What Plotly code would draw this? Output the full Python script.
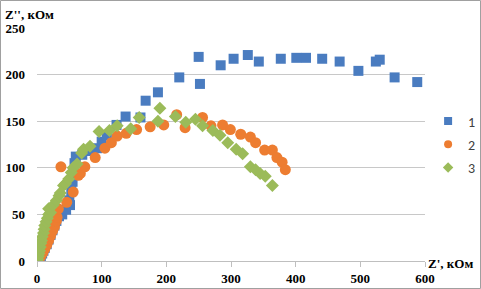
import plotly.graph_objects as go

# Series 1 (blue squares)
x1 = [0, 2, 4, 6, 8, 10, 12, 15, 18, 21, 24, 27, 30, 34, 39, 45, 51, 50, 53, 55, 56, 58, 60, 70, 80, 93,
      100, 108, 123, 137, 160, 168, 187, 220, 252, 250, 284, 304, 326, 343, 377, 401, 416, 441, 468, 497,
      524, 530, 553, 588]
y1 = [0, 1, 3, 5, 8, 11, 14, 18, 23, 28, 33, 38, 43, 48, 50, 55, 60, 65, 75, 85, 95, 105, 112, 114, 118, 121,
      128, 135, 146, 155, 154, 172, 181, 197, 190, 219, 210, 217, 221, 214, 217, 218, 218, 217, 214, 204,
      214, 216, 197, 192]

# Series 2 (orange circles)
x2 = [1, 3, 6, 9, 12, 15, 18, 21, 24, 27, 30, 31, 33, 46, 56, 37, 64, 67, 74, 90, 105, 115, 124, 138, 154,
      175, 196, 216, 229, 256, 269, 287, 299, 315, 330, 338, 352, 364, 371, 379, 384]
y2 = [0, 2, 5, 9, 13, 17, 22, 27, 32, 37, 43, 47, 56, 63, 74, 101, 92, 94, 101, 111, 121, 127, 134, 137, 141,
      144, 146, 157, 143, 154, 145, 146, 141, 136, 133, 127, 119, 119, 111, 106, 98]

# Series 3 (green diamonds)
x3 = [0, 1, 2, 3, 4, 5, 6, 7, 8, 10, 11, 12, 14, 16, 18, 21, 18, 25, 30, 34, 36, 41, 44, 49, 53, 56, 62, 69,
      72, 82, 96, 112, 124, 145, 158, 187, 190, 214, 230, 245, 256, 272, 283, 295, 308, 318, 330, 338, 345,
      353, 364]
y3 = [0, 2, 5, 8, 11, 15, 19, 22, 26, 30, 34, 38, 42, 46, 50, 52, 56, 60, 65, 70, 73, 81, 83, 88, 95, 100, 104,
      116, 120, 123, 139, 140, 145, 142, 154, 150, 164, 155, 149, 152, 145, 140, 135, 127, 120, 115, 101, 98,
      94, 91, 81]

names = ["1", "2", "3"]
colors = ["#4A7CC0", "#ED7D31", "#9BBB59"]
symbols = ["square", "circle", "diamond"]
sizes = [10, 11, 10]
x_ticks = [0, 100, 200, 300, 400, 500, 600]
y_ticks = [0, 50, 100, 150, 200, 250]

serif = "Liberation Serif, Times New Roman, serif"

fig = go.Figure()
for xs, ys, n, c, s, sz in zip([x1, x2, x3], [y1, y2, y3], names, colors, symbols, sizes):
    fig.add_trace(go.Scatter(x=xs, y=ys, mode="markers", name=n, showlegend=False,
                             marker=dict(symbol=s, color=c, size=sz, line=dict(width=0))))
# legend entries with smaller markers
for n, c, s in zip(names, colors, symbols):
    fig.add_trace(go.Scatter(x=[None], y=[None], mode="markers", name=n, legendgroup=n,
                             marker=dict(symbol=s, color=c, size=8, line=dict(width=0))))

W, H = 481, 289
ml, mr, mt, mb = 37, 56, 28, 28
pw, ph = W - ml - mr, H - mt - mb

fig.update_layout(
    width=W, height=H,
    margin=dict(l=ml, r=mr, t=mt, b=mb, autoexpand=False),
    paper_bgcolor="white", plot_bgcolor="white",
    font=dict(family=serif, size=13, color="black"),
    showlegend=True,
    legend=dict(x=1.008, xanchor="left", y=0.5, yanchor="middle", xref="paper",
                font=dict(family="Carlito, Lato, Liberation Sans, sans-serif", size=14, color="#404040"),
                tracegroupgap=2, itemwidth=30, bgcolor="rgba(0,0,0,0)"),
    xaxis=dict(range=[0, 600], tickvals=x_ticks, showgrid=False, zeroline=False, automargin=False,
               showline=True, linecolor="#BFBFBF", linewidth=1, ticks="outside", ticklen=5,
               tickcolor="#BFBFBF", tickfont=dict(family=serif, size=13, weight="bold")),
    yaxis=dict(range=[0, 250], tickvals=y_ticks, showgrid=True, gridcolor="#C8C8C8", gridwidth=1,
               zeroline=False, showline=False, ticks="", ticklabelstandoff=11, automargin=False,
               tickfont=dict(family=serif, size=13, weight="bold")),
    annotations=[
        dict(text="<b>Z'', кОм</b>", xref="paper", yref="paper", x=0, y=1, xanchor="left",
             yanchor="middle", xshift=-ml + 3, yshift=14, showarrow=False,
             font=dict(family=serif, size=13, color="black")),
        dict(text="<b>Z', кОм</b>", xref="paper", yref="paper", x=1, y=0, xanchor="left",
             yanchor="middle", xshift=1, yshift=-2, showarrow=False,
             font=dict(family=serif, size=13, color="black")),
    ],
    shapes=[dict(type="rect", xref="paper", yref="paper",
                 x0=(-ml + 0.5) / pw, x1=1 + (mr - 0.5) / pw,
                 y0=(-mb + 0.5) / ph, y1=1 + (mt - 0.5) / ph,
                 line=dict(color="#A0A0A0", width=1), layer="below")],
)

fig.write_html("out.html", config={"displayModeBar": False},
               post_script="document.body.style.margin='0';document.body.style.overflow='hidden';")
